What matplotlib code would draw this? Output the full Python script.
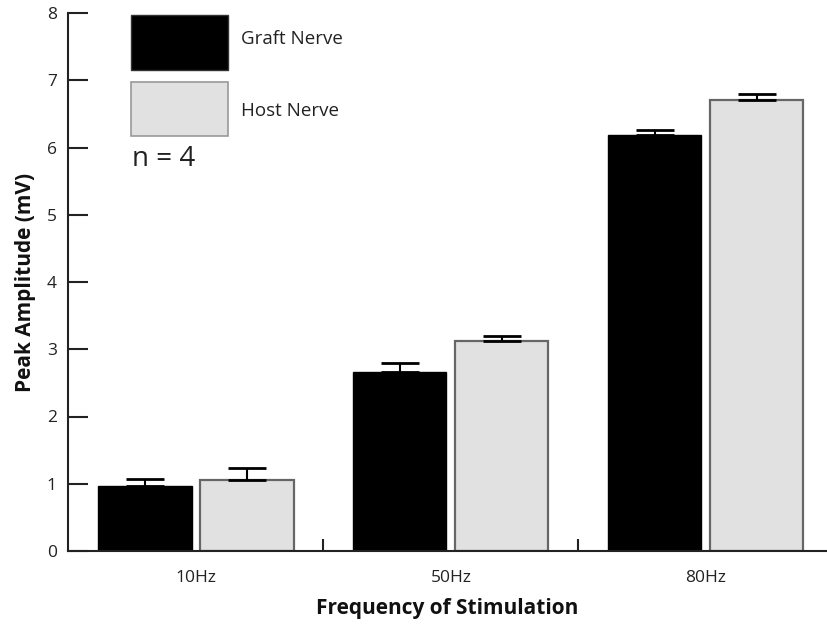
import matplotlib
matplotlib.use("Agg")
import matplotlib.pyplot as plt
from matplotlib.patches import Rectangle
import numpy as np

plt.rcParams['font.family'] = ['Open Sans', 'DejaVu Sans']

categories = ["10Hz", "50Hz", "80Hz"]
graft_mean = [0.96, 2.66, 6.18]
graft_sem = [0.11, 0.14, 0.08]
host_mean = [1.06, 3.12, 6.71]
host_sem = [0.17, 0.08, 0.09]
series_names = ["Graft Nerve", "Host Nerve"]
n_label = "n = 4"

W, H = 827, 624
fig = plt.figure(figsize=(W / 100, H / 100), dpi=100)
ax = fig.add_axes([68 / W, (H - 551) / H, (W - 68) / W, (551 - 13) / H])

x = np.arange(len(categories))
bw = 0.365
off = 0.2

ax.bar(x - off, graft_mean, bw, color="black", edgecolor="black", linewidth=1.0, zorder=2)
ax.bar(x + off, host_mean, bw, color="#e1e1e1", edgecolor="#666666", linewidth=1.6, zorder=2)

ekw = dict(fmt="none", ecolor="black", elinewidth=1.5, capsize=14, capthick=2.0, zorder=3)
ax.errorbar(x - off, graft_mean, yerr=[np.zeros(3), graft_sem], **ekw)
ax.errorbar(x + off, host_mean, yerr=[np.zeros(3), host_sem], **ekw)

ax.set_xlim(-0.502, 2.475)
ax.set_ylim(0, 8)

for s in ["top", "right"]:
    ax.spines[s].set_visible(False)
for s in ["left", "bottom"]:
    ax.spines[s].set_linewidth(1.5)
    ax.spines[s].set_color("#222222")

ax.set_yticks(range(0, 9))
ax.tick_params(axis="y", direction="in", length=14.5, width=1.5, pad=8,
               labelsize=12.5, colors="#222222")
ax.set_xticks(x)
ax.set_xticklabels(categories)
ax.tick_params(axis="x", which="major", length=0, pad=14, labelsize=12.5, colors="#222222")
ax.set_xticks([0.5, 1.5], minor=True)
ax.tick_params(axis="x", which="minor", direction="in", length=8.5, width=1.5, colors="#222222")

ax.set_ylabel("Peak Amplitude (mV)", fontsize=15, fontweight="bold", labelpad=8, color="#111111")
ax.set_xlabel("Frequency of Stimulation", fontsize=15, fontweight="bold", labelpad=8, color="#111111")

# legend swatches in figure pixel units
def px_rect(x0, y0, x1, y1, **kw):
    fig.add_artist(Rectangle((x0 / W, 1 - y1 / H), (x1 - x0) / W, (y1 - y0) / H,
                             transform=fig.transFigure, **kw))

px_rect(131, 15, 228, 70, facecolor="black", edgecolor="#333333", linewidth=1.0)
px_rect(131, 82, 228, 136, facecolor="#e1e1e1", edgecolor="#999999", linewidth=1.2)
fig.text(241 / W, 1 - 39 / H, series_names[0], fontsize=13.5, va="center", ha="left", color="#222222")
fig.text(241 / W, 1 - 111 / H, series_names[1], fontsize=13.5, va="center", ha="left", color="#222222")
fig.text(132 / W, 1 - 159 / H, n_label, fontsize=20, va="center", ha="left", color="#222222")

fig.savefig("out.png", dpi=100)
